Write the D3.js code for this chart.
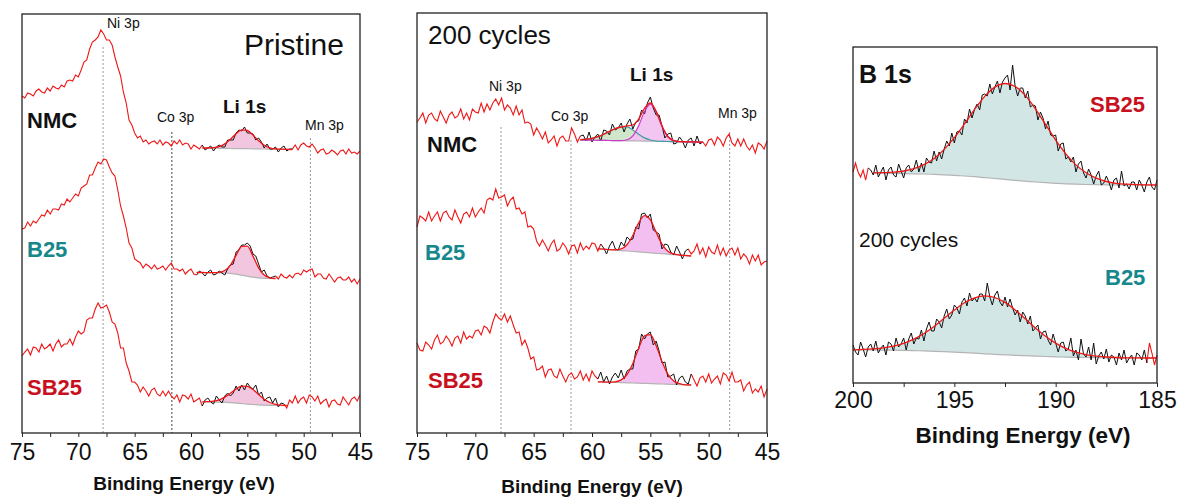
<!DOCTYPE html>
<html>
<head>
<meta charset="utf-8">
<script src="https://cdn.jsdelivr.net/npm/d3@7"></script>
<style>
  body { margin: 0; background: #fff; }
  svg { font-family: Arial, "Liberation Sans", sans-serif; }
</style>
</head>
<body>
<svg id="chart" width="1178" height="497"></svg>
<script>
// ---------------- data (intensity in a.u.) ----------------
// Ni 3p / Li 1s / Mn 3p window: 75 -> 45 eV, one value every 0.25 eV
const region_start = 75, region_step = 0.25;
// B 1s window: 200 -> 185 eV, one value every 0.125 eV
const b1s_start = 200, b1s_step = 0.125;

const pristine_nmc = [337,335,340,339,337,342,344,341,340,345,342,347,345,344,348,346,352,353,352,358,
  356,363,371,373,384,391,393,396,403,399,393,393,388,376,366,357,341,330,313,308,
  300,295,297,291,293,289,291,292,289,293,288,291,290,287,292,289,293,288,290,289,
  284,288,286,284,288,283,285,287,282,286,288,286,286,293,293,293,300,303,302,306,
  300,300,299,293,295,291,285,289,284,284,286,281,285,287,282,284,284,288,283,288,
  290,287,286,289,285,280,283,284,279,280,283,281,278,282,283,279,284,280,281,279,282];
const pristine_b25 = [204,205,211,207,212,210,214,218,217,223,219,224,224,223,229,228,234,231,235,239,
  237,245,247,249,258,258,265,271,269,274,273,266,260,257,243,227,217,205,190,185,
  174,172,170,165,169,167,164,168,164,165,167,163,167,170,164,164,162,164,159,162,
  164,159,158,162,160,157,161,163,158,159,162,160,158,164,168,169,181,183,188,188,
  190,187,179,177,169,161,163,157,155,156,157,154,159,156,155,158,155,159,160,158,
  163,161,163,164,156,159,159,155,154,159,155,151,155,156,153,153,156,151,154,149,154];
const pristine_sb25 = [77,81,84,78,86,85,81,89,84,86,89,82,89,93,86,89,89,94,88,96,
  102,99,101,113,115,115,124,130,125,126,128,121,111,109,100,85,85,70,62,51,
  51,48,41,46,42,37,43,45,39,37,42,37,42,37,34,38,31,38,37,34,
  39,31,33,35,27,33,35,31,29,37,33,30,37,40,37,40,47,42,48,43,
  50,46,44,48,38,41,32,35,36,30,35,26,30,29,25,33,30,37,30,34,
  36,30,38,36,32,37,29,32,34,26,32,33,29,28,36,32,28,34,36,32,38];

const cycled_nmc = [311,315,320,310,318,320,314,312,322,316,310,318,321,315,317,324,314,320,313,324,
  321,320,330,321,329,323,330,334,328,335,323,328,325,318,327,318,323,310,311,309,
  298,305,300,294,301,290,293,297,287,295,297,292,292,305,299,291,297,298,292,301,
  291,296,299,292,303,302,298,309,303,305,310,301,309,314,304,311,312,323,319,330,
  336,325,318,318,307,295,299,300,289,290,296,292,285,293,295,287,297,289,291,287,
  293,294,288,296,293,287,295,299,290,287,294,287,294,287,283,288,280,290,288,284,292];
const cycled_b25 = [206,217,215,212,221,212,217,221,212,220,222,216,213,223,216,210,219,221,216,225,
  216,221,225,220,233,235,233,244,235,236,238,227,233,236,224,225,219,221,206,207,
  204,192,187,193,188,182,189,193,182,184,190,186,179,187,188,180,190,183,187,184,
  190,189,182,189,185,179,187,192,184,183,191,187,196,193,194,206,204,219,220,215,
  219,203,201,199,184,189,188,181,178,187,181,174,182,184,179,182,189,179,185,176,
  186,181,179,188,178,185,177,183,185,178,185,174,179,176,169,178,172,178,168,171,172];
const cycled_sb25 = [90,83,82,91,88,84,93,98,89,91,97,93,87,95,97,90,101,94,97,95,
  102,103,98,107,105,100,111,119,115,113,119,111,117,108,100,101,88,93,85,74,
  76,63,64,67,56,63,64,57,55,64,57,51,58,60,54,56,62,53,59,52,
  62,57,54,61,51,57,49,56,60,55,63,54,62,64,64,82,84,99,94,99,
  101,88,92,82,70,71,56,57,59,48,55,57,51,49,59,53,47,55,57,51,
  59,50,54,57,49,60,58,52,61,51,51,53,42,48,51,40,44,41,47,36,44];

const b1s_sb25 = [211,220,211,206,213,203,215,213,208,218,206,211,216,203,213,216,208,206,219,212,
  205,215,218,211,214,223,211,220,211,225,221,220,232,222,231,224,234,242,237,250,
  240,251,252,248,264,260,274,265,274,279,273,288,289,287,299,289,296,302,290,301,
  305,308,293,318,297,287,295,295,285,292,276,278,277,263,271,265,254,262,248,247,
  248,232,239,240,224,226,221,226,211,219,222,210,205,214,208,199,207,212,198,200,
  207,201,193,203,205,195,212,197,199,194,201,201,193,203,198,191,201,206,196,193,203];
const b1s_b25 = [38,31,28,41,34,26,36,39,32,42,30,35,38,28,41,39,32,45,36,39,
  45,33,44,50,39,45,44,53,42,54,61,52,52,64,61,55,67,74,64,68,
  78,75,69,81,85,77,90,82,85,81,89,89,82,100,86,78,88,92,81,77,
  86,76,84,75,68,73,61,71,67,59,67,52,55,58,44,51,52,43,38,49,
  40,31,40,41,32,34,45,27,33,23,44,29,26,36,23,40,19,27,31,24,
  34,21,28,26,18,30,23,33,20,25,28,18,30,28,23,33,20,40,30,18,28];

// peak fits: background, fitted components and envelope
const pristine_nmc_fit_ev = [59,58.5,58,57.5,57,56.5,56,55.5,55,54.5,54,53.5,53,52.5,52,51.5,51];
const pristine_nmc_fit_bg = [285,284.9,284.8,284.7,284.6,284.5,284.4,284.4,284.3,284.2,284.1,284,283.9,283.8,283.7,283.6,283.5];
const pristine_nmc_fit_env = [285,285,285.3,286.4,289.1,293.8,299.3,303.1,302.5,297.9,292.3,287.8,285.2,284.1,283.8,283.6,283.5];

const pristine_b25_fit_ev = [59.5,59,58.5,58,57.5,57,56.5,56,55.5,55,54.5,54,53.5,53,52.5];
const pristine_b25_fit_bg = [160.5,160.5,160.4,160.3,160.2,160,159.6,158.8,157.8,156.8,155.8,155.1,154.7,154.5,154.4];
const pristine_b25_fit_env = [160.5,160.5,160.4,160.4,160.7,162.5,167.9,177.6,186.7,186.8,176.9,165.2,157.9,155.2,154.5];

const pristine_sb25_fit_ev = [59,58.5,58,57.5,57,56.5,56,55.5,55,54.5,54,53.5,53,52.5,52,51.5];
const pristine_sb25_fit_bg = [31,31,30.9,30.8,30.6,30.3,29.9,29.4,28.9,28.5,28.1,27.8,27.6,27.5,27.5,27.5];
const pristine_sb25_fit_env = [31.1,31.3,31.8,33.2,35.9,39.8,44,46.8,46.6,43.5,38.5,33.8,30.5,28.7,27.9,27.6];

const cycled_nmc_fit_ev = [61,60.5,60,59.5,59,58.5,58,57.5,57,56.5,56,55.5,55,54.5,54,53.5,53,52.5,52,51.5,51,50.5];
const cycled_nmc_fit_bg = [293,292.9,292.8,292.7,292.6,292.5,292.4,292.3,292.2,292.1,292,291.9,291.8,291.7,291.6,291.5,291.4,291.3,291.2,291.1,291,290.9];
const cycled_nmc_fit_peak1 = [293.4,293.8,294.7,296.3,298.7,301.6,304.3,306,306.1,303,298.7,295.1,293,292,291.7,291.5,291.4,291.3,291.2,291.1,291,290.9];
const cycled_nmc_fit_peak2 = [293,292.9,292.8,292.7,292.6,292.5,292.4,292.3,293.2,297.1,307.2,321.5,328.8,321.3,306.8,296.5,292.4,291.4,291.2,291.1,291,290.9];
const cycled_nmc_fit_env = [293.4,293.8,294.7,296.3,298.7,301.6,304.3,306,307.1,308,313.9,324.7,330,321.6,306.9,296.5,292.4,291.4,291.2,291.1,291,290.9];

const cycled_b25_fit_ev = [59.5,59,58.5,58,57.5,57,56.5,56,55.5,55,54.5,54,53.5,53,52.5,52,51.5];
const cycled_b25_fit_bg = [184.2,183.8,183.3,182.9,182.4,182,181.5,181.1,180.6,180.2,179.7,179.3,178.8,178.4,177.9,177.5,177];
const cycled_b25_fit_env = [184.2,183.8,183.3,183.2,184.1,188.3,197.5,210.1,217.3,213.2,200.7,188.8,181.8,179.1,178,177.5,177];

const cycled_sb25_fit_ev = [59.5,59,58.5,58,57.5,57,56.5,56,55.5,55,54.5,54,53.5,53,52.5,52,51.5];
const cycled_sb25_fit_bg = [51.2,51,50.8,50.6,50.4,50.2,50,49.8,49.6,49.4,49.2,49,48.8,48.6,48.4,48.2,48];
const cycled_sb25_fit_env = [51.2,51,50.8,51.2,53.1,58.5,69.6,84.8,97.2,98.3,87.2,71.5,58.8,52,49.3,48.2,48];

const b1s_sb25_fit_ev = [199,198.5,198,197.5,197,196.5,196,195.5,195,194.5,194,193.5,193,192.5,192,191.5,191,190.5,190,189.5,189,188.5,188,187.5,187,186.5,186,185.5,185];
const b1s_sb25_fit_bg = [210,209.8,209.6,209.4,209.2,209,208.6,208.2,207.7,207,206.3,205.4,204.5,203.6,202.6,201.8,201,200.3,199.7,199.2,198.8,198.5,198.3,198.1,198,198,198,198,198];
const b1s_sb25_fit_env = [210.2,210.4,210.8,212,214.3,218.3,224.5,233.6,245.3,259.1,273.6,286.6,295.9,299.5,296.5,287.6,274.2,258.6,242.9,229.2,218.1,210.2,204.9,201.5,199.7,198.8,198.3,198.1,198];

const b1s_b25_fit_ev = [200,199.5,199,198.5,198,197.5,197,196.5,196,195.5,195,194.5,194,193.5,193,192.5,192,191.5,191,190.5,190,189.5,189,188.5,188,187.5,187,186.5,186,185.5,185];
const b1s_b25_fit_bg = [33,33,33,32.9,32.8,32.6,32.4,32.1,31.7,31.3,30.8,30.3,29.8,29.2,28.7,28.2,27.7,27.3,26.9,26.5,26.2,25.9,25.7,25.5,25.3,25.2,25.1,25,25,25,25];
const b1s_b25_fit_env = [33.2,33.6,34.2,35.2,36.9,39.7,43.9,49.5,56.6,64.7,72.9,80.2,85.2,87.1,85.5,80.6,73.1,64.2,55.1,46.8,39.9,34.6,30.9,28.4,26.8,26,25.5,25.2,25.1,25,25];

// core level positions (eV)
const pristine_levels = [67.8, 61.7, 49.4];
const cycled_levels = [67.8, 61.8, 48.2];
const level_names = ["Ni 3p", "Co 3p", "Mn 3p"];

// ---------------- drawing ----------------
const RED = "#f01616";
const TEXT_RED = "#c8101e";
const TEAL = "#16878a";
const PINK = "#f3c6df";
const LILAC = "#f2bff0";

var svg = d3.select("#chart");

function grid(start, step, n) {
    return d3.range(n).map(i => start - i * step);
}

function pairs(ev, vals) {
    return vals.map((v, i) => [ev[i], v]);
}

function draw_spectrum(g, x, y, s) {
    var line = d3.line().x(d => x(d[0])).y(d => y(d[1]));
    var smooth = d3.line().x(d => x(d[0])).y(d => y(d[1])).curve(d3.curveMonotoneX);
    var f = s.fit;

    // filled fit components
    f.comps.forEach(c => {
        var area = d3.area()
            .x((d, i) => x(f.ev[i]))
            .y0((d, i) => y(f.bg[i]))
            .y1(d => y(d))
            .curve(d3.curveMonotoneX);
        g.append("path")
            .attr("d", area(c.values))
            .attr("fill", c.fill)
            .attr("opacity", c.opacity || 1);
    });

    g.append("path")
        .attr("d", smooth(pairs(f.ev, f.bg)))
        .attr("fill", "none")
        .attr("stroke", "#b4b4b4")
        .attr("stroke-width", 1.2);

    // raw data: red outside the fit window, black inside
    var pts = pairs(s.ev, s.values);
    var lo = s.window[0], hi = s.window[1];
    [pts.filter(d => d[0] >= hi), pts.filter(d => d[0] <= lo)].forEach(seg => {
        if (seg.length < 2) return;
        g.append("path")
            .attr("d", line(seg))
            .attr("fill", "none")
            .attr("stroke", RED)
            .attr("stroke-width", 1.1);
    });
    g.append("path")
        .attr("d", line(pts.filter(d => d[0] <= hi && d[0] >= lo)))
        .attr("fill", "none")
        .attr("stroke", "#111")
        .attr("stroke-width", 1);

    f.comps.forEach(c => {
        if (!c.stroke) return;
        g.append("path")
            .attr("d", smooth(pairs(f.ev, c.values)))
            .attr("fill", "none")
            .attr("stroke", c.stroke)
            .attr("stroke-width", 1.2);
    });

    g.append("path")
        .attr("d", smooth(pairs(f.ev, f.env)))
        .attr("fill", "none")
        .attr("stroke", RED)
        .attr("stroke-width", 1.3);
}

function draw_panel(p) {
    var x = d3.scaleLinear().domain(p.x_domain).range([p.left, p.right]);
    var y = d3.scaleLinear().domain(p.y_domain).range([p.bottom, p.top]);
    var g = svg.append("g");

    // dotted guides for core levels
    (p.levels || []).forEach((lv, i) => {
        g.append("line")
            .attr("x1", x(lv)).attr("x2", x(lv))
            .attr("y1", y(p.level_tops[i])).attr("y2", p.bottom)
            .attr("stroke", i == 1 && p.dark_co ? "#444" : "#9a9a9a")
            .attr("stroke-width", 1)
            .attr("stroke-dasharray", "2,2");
    });

    p.spectra.forEach(s => draw_spectrum(g, x, y, s));

    // bottom axis, minor then major ticks
    g.append("g")
        .attr("transform", "translate(0," + p.bottom + ")")
        .call(d3.axisBottom(x).tickValues(p.minor).tickSize(4).tickFormat(""))
        .call(a => a.select(".domain").remove());
    g.append("g")
        .attr("transform", "translate(0," + p.bottom + ")")
        .call(d3.axisBottom(x).tickValues(p.major).tickSize(4).tickPadding(p.pad).tickFormat(d3.format("d")))
        .call(a => a.select(".domain").remove())
        .call(a => a.selectAll("text").attr("font-size", "23px").attr("fill", "#111")
            .attr("font-family", "Arial, 'Liberation Sans', sans-serif"));
    g.selectAll(".tick line").attr("stroke", "#222");

    g.append("rect")
        .attr("x", p.left).attr("y", p.top)
        .attr("width", p.right - p.left).attr("height", p.bottom - p.top)
        .attr("fill", "none")
        .attr("stroke", "#222")
        .attr("stroke-width", 1.3);

    p.labels.forEach(l => {
        g.append("text")
            .attr("x", l[1]).attr("y", l[2])
            .attr("font-size", l[3] + "px")
            .attr("font-weight", l[4] ? "bold" : "normal")
            .attr("fill", l[5] || "#111")
            .attr("text-anchor", l[6] || "start")
            .text(l[0]);
    });
}

function single(ev, bg, env, fill) {
    return {ev: ev, bg: bg, env: env, comps: [{values: env, fill: fill}]};
}

var region_ev = grid(region_start, region_step, pristine_nmc.length);
var b1s_ev = grid(b1s_start, b1s_step, b1s_sb25.length);

var panels = [
    {
        left: 22, right: 360, top: 14, bottom: 433, pad: 7,
        x_domain: [75, 45], y_domain: [0, 419],
        major: [75, 70, 65, 60, 55, 50, 45], minor: [72.5, 67.5, 62.5, 57.5, 52.5, 47.5],
        levels: pristine_levels, level_tops: [386, 301, 295], dark_co: true,
        spectra: [
            {ev: region_ev, values: pristine_nmc, window: [51, 59],
             fit: single(pristine_nmc_fit_ev, pristine_nmc_fit_bg, pristine_nmc_fit_env, PINK)},
            {ev: region_ev, values: pristine_b25, window: [52.5, 59.5],
             fit: single(pristine_b25_fit_ev, pristine_b25_fit_bg, pristine_b25_fit_env, PINK)},
            {ev: region_ev, values: pristine_sb25, window: [51.75, 59],
             fit: single(pristine_sb25_fit_ev, pristine_sb25_fit_bg, pristine_sb25_fit_env, PINK)}
        ],
        labels: [
            ["Pristine", 344, 55, 30, false, "#111", "end"],
            ["Li 1s", 223, 113, 19, true],
            [level_names[0], 107, 28, 14],
            [level_names[1], 157, 122, 14],
            [level_names[2], 305, 130, 14],
            ["NMC", 27, 128, 22, true, "#111"],
            ["B25", 27, 257, 22, true, TEAL],
            ["SB25", 27, 395, 22, true, TEXT_RED],
            ["Binding Energy (eV)", 184, 490, 19, true, "#111", "middle"]
        ]
    },
    {
        left: 417, right: 767, top: 13, bottom: 433, pad: 7,
        x_domain: [75, 45], y_domain: [0, 420],
        major: [75, 70, 65, 60, 55, 50, 45], minor: [72.5, 67.5, 62.5, 57.5, 52.5, 47.5],
        levels: cycled_levels, level_tops: [306, 293, 301],
        spectra: [
            {ev: region_ev, values: cycled_nmc, window: [50.5, 61],
             fit: {ev: cycled_nmc_fit_ev, bg: cycled_nmc_fit_bg, env: cycled_nmc_fit_env,
                   comps: [{values: cycled_nmc_fit_peak1, fill: "#cfe6cb", stroke: "#3c9ea4"},
                           {values: cycled_nmc_fit_peak2, fill: LILAC, stroke: "#c83cc8", opacity: 0.9}]}},
            {ev: region_ev, values: cycled_b25, window: [51.75, 59.25],
             fit: single(cycled_b25_fit_ev, cycled_b25_fit_bg, cycled_b25_fit_env, LILAC)},
            {ev: region_ev, values: cycled_sb25, window: [51.5, 59.5],
             fit: single(cycled_sb25_fit_ev, cycled_sb25_fit_bg, cycled_sb25_fit_env, LILAC)}
        ],
        labels: [
            ["200 cycles", 428, 44, 26, false],
            ["Li 1s", 630, 81, 19, true],
            [level_names[0], 489, 91, 14],
            [level_names[1], 551, 121, 14],
            [level_names[2], 718, 118, 14],
            ["NMC", 427, 152, 22, true, "#111"],
            ["B25", 425, 260, 22, true, TEAL],
            ["SB25", 428, 388, 22, true, TEXT_RED],
            ["Binding Energy (eV)", 592, 493, 19, true, "#111", "middle"]
        ]
    },
    {
        left: 853, right: 1157, top: 47, bottom: 383, pad: 5,
        x_domain: [200, 185], y_domain: [0, 336],
        major: [200, 195, 190, 185], minor: [197.5, 192.5, 187.5],
        spectra: [
            {ev: b1s_ev, values: b1s_sb25, window: [185, 199.25],
             fit: single(b1s_sb25_fit_ev, b1s_sb25_fit_bg, b1s_sb25_fit_env, "#d3e6e6")},
            {ev: b1s_ev, values: b1s_b25, window: [185.5, 200],
             fit: single(b1s_b25_fit_ev, b1s_b25_fit_bg, b1s_b25_fit_env, "#d3e6e6")}
        ],
        labels: [
            ["B 1s", 859, 83, 25, true],
            ["SB25", 1090, 112, 22, true, TEXT_RED],
            ["200 cycles", 859, 247, 21, false],
            ["B25", 1105, 285, 22, true, TEAL],
            ["Binding Energy (eV)", 1023, 443, 22.5, true, "#111", "middle"]
        ]
    }
];

panels.forEach(draw_panel);
</script>
</body>
</html>
